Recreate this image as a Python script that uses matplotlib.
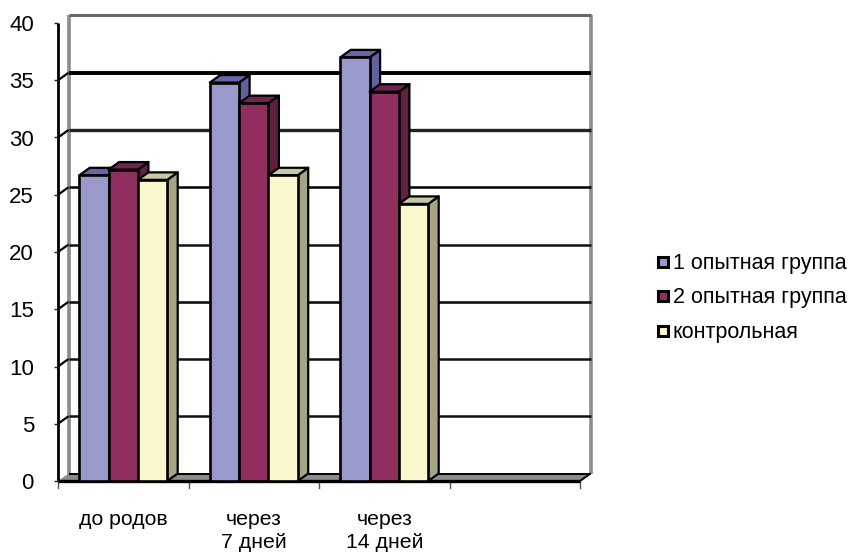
import matplotlib
matplotlib.use('Agg')
import matplotlib.pyplot as plt
from matplotlib.patches import Polygon, Rectangle

plt.rcParams['font.family'] = ['Liberation Sans', 'DejaVu Sans']

categories = ['до родов', 'через\n7 дней', 'через\n14 дней', '']
series_names = ['1 опытная группа', '2 опытная группа', 'контрольная']
group1 = [26.7, 34.8, 37.0]
group2 = [27.2, 33.0, 34.0]
control = [26.3, 26.7, 24.2]
yticks = [0, 5, 10, 15, 20, 25, 30, 35, 40]

front_colors = ['#9999cc', '#8f2e5f', '#fbf7cd']
top_colors = ['#6666aa', '#6f2450', '#c8c7a2']
side_colors = ['#62629f', '#60213f', '#a5a585']

W, H = 850, 553
fig = plt.figure(figsize=(W / 100, H / 100), dpi=100)
# plot area: front plane runs 58..580 px across and 481..23 px down
ax = fig.add_axes([58 / W, 1 - 481 / H, (580 - 58) / W, (481 - 23) / H])
ax.set_xlim(0, 4)
ax.set_ylim(0, 40)
ax.axis('off')

# depth of the 3d effect in data units
dx = 10.5 / (522 / 4)
dy = 7.5 / (458 / 40)
bar_w = 29.3 / (522 / 4)
gap = (1 - 3 * bar_w) / 2


def poly(points, fc, ec='none', lw=0, z=1):
    ax.add_patch(Polygon(points, closed=True, facecolor=fc, edgecolor=ec,
                         linewidth=lw, zorder=z, clip_on=False, joinstyle='round'))


def line(xs, ys, color='black', lw=1.5, z=2):
    ax.plot(xs, ys, color=color, lw=lw, zorder=z, clip_on=False, solid_capstyle='butt')


# walls and floor
poly([(0, 0), (dx, dy), (4 + dx, dy), (4, 0)], '#8c8c8c', z=1)
line([dx, 4 + dx], [dy, dy], 'black', 1.4, 2)
line([dx, dx], [dy, 40 + dy], '#8c8c8c', 2.6, 1.5)
line([4 + dx, 4 + dx], [dy, 40 + dy], '#8c8c8c', 2.6, 1.5)
line([dx, 4 + dx], [40 + dy, 40 + dy], '#666666', 2.2, 1.5)
line([4, 4 + dx], [0, dy], 'black', 1.4, 2)

# gridlines wrap from the side wall onto the back wall
grid_widths = {5: 1.8, 10: 1.8, 15: 1.9, 20: 1.8, 25: 1.8, 30: 2.4, 35: 2.8}
grid_colors = {5: '#111111', 10: '#111111', 15: '#111111', 20: '#111111',
               25: '#000000', 30: '#222222', 35: '#000000'}
for v in yticks[1:-1]:
    line([0, dx], [v, v + dy], 'black', 1.6, 2)
    line([dx, 4 + dx], [v + dy, v + dy], grid_colors[v], grid_widths[v], 2)

# front axis lines and ticks
line([0, 0], [0, 40], 'black', 2.0, 3)
for v in yticks:
    line([-4 / 130.5, 0], [v, v], '#222222', 1.0, 3)
    ax.text(-24 / 130.5, v - 0.22, str(v), ha='right', va='center', fontsize=16, color='black')
for i in range(5):
    ax.plot([i, i], [0, -7 / 11.45], color='#555555', lw=1.0, clip_on=False, zorder=3)
line([0, 4], [0, 0], 'black', 2.4, 3)

# bars, drawn left to right so each one overlaps the previous side face
series = [group1, group2, control]
z = 4
for c in range(3):
    for s, vals in enumerate(series):
        x0 = c + gap + s * bar_w
        x1 = x0 + bar_w
        v = vals[c]
        poly([(x1, 0), (x1 + dx, dy), (x1 + dx, v + dy), (x1, v)], side_colors[s], 'black', 1.6, z)
        poly([(x0, v), (x0 + dx, v + dy), (x1 + dx, v + dy), (x1, v)], top_colors[s], 'black', 1.6, z)
        poly([(x0, 0), (x1, 0), (x1, v), (x0, v)], front_colors[s], 'black', 1.9, z)
        z += 1

# category labels below the axis
for i, name in enumerate(categories):
    ax.text(i + 0.5, -2.5, name, ha='center', va='top', fontsize=15.3,
            color='black', linespacing=1.3)

# legend keys and names
legend_y = [262, 296, 331]
for s, name in enumerate(series_names):
    y = legend_y[s]
    fig.add_artist(Rectangle((657.5 / W, 1 - (y + 5) / H), 10 / W, 10 / H,
                             transform=fig.transFigure, facecolor=front_colors[s],
                             edgecolor='black', linewidth=2.2))
    fig.text(673 / W, 1 - (y + 1.5) / H, name, ha='left', va='center',
             fontsize=15.5, color='black')

fig.savefig('out.png', dpi=100, facecolor='white')
